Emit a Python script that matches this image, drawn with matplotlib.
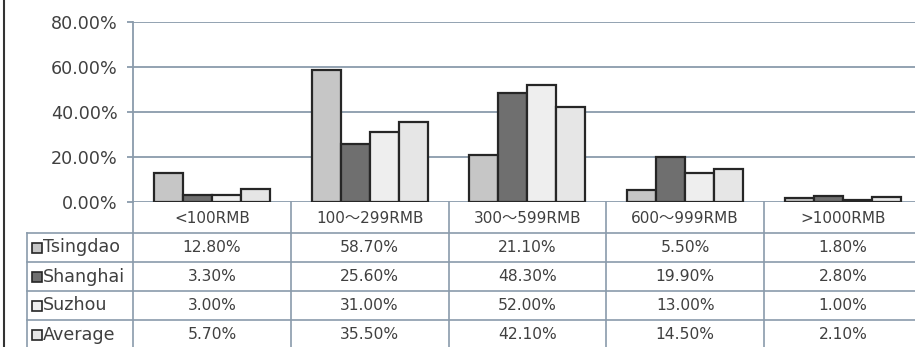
import matplotlib
matplotlib.use("Agg")
import matplotlib.pyplot as plt
from matplotlib.lines import Line2D
import numpy as np

plt.rcParams['font.family'] = ['DejaVu Sans', 'Noto Sans CJK SC']

# Price bands and share of respondents (%) per city
categories = ["<100RMB", "100～299RMB", "300～599RMB", "600～999RMB", ">1000RMB"]
series_names = ["Tsingdao", "Shanghai", "Suzhou", "Average"]
tsingdao = [12.8, 58.7, 21.1, 5.5, 1.8]
shanghai = [3.3, 25.6, 48.3, 19.9, 2.8]
suzhou = [3.0, 31.0, 52.0, 13.0, 1.0]
average = [5.7, 35.5, 42.1, 14.5, 2.1]
y_ticks = [0, 20, 40, 60, 80]

series_values = [tsingdao, shanghai, suzhou, average]
fills = ["#c6c6c6", "#6f6f6f", "#eeeeee", "#e6e6e6"]
edge_col = "#262626"
line_col = "#8a9bab"
text_col = "#404040"

W, H = 915, 347
fig = plt.figure(figsize=(W / 100, H / 100), dpi=100)
fig.patch.set_facecolor("white")


def fx(px):
    return px / W


def fy(py):
    return 1 - py / H


# Layout in pixels
x_left, col_w = 133, 157.75
x_right = x_left + len(categories) * col_w
y_top, y_zero = 22, 202
leg_left, tab_bottom = 27, 349

# ---- bar chart ----
ax = fig.add_axes([fx(x_left), fy(y_zero), (x_right - x_left) / W, (y_zero - y_top) / H])
ax.set_xlim(-0.5, len(categories) - 0.5)
ax.set_ylim(0, 80)
x = np.arange(len(categories))
bw = 0.1835
for i, (vals, fc) in enumerate(zip(series_values, fills)):
    ax.bar(x + (i - 1.5) * bw, vals, width=bw, color=fc, edgecolor=edge_col,
           linewidth=1.6, zorder=3)

ax.set_yticks(y_ticks)
ax.set_yticklabels([f"{v:.2f}%" for v in y_ticks], fontsize=12.6, color=text_col)
ax.set_xticks([])
ax.yaxis.grid(True, color=line_col, linewidth=1.3, zorder=0)
ax.tick_params(axis='y', length=4, width=1.3, color=line_col, pad=7)
for s in ["top", "right", "bottom"]:
    ax.spines[s].set_visible(False)
ax.spines["left"].set_color(line_col)
ax.spines["left"].set_linewidth(1.3)
ax.patch.set_alpha(0)

# ---- data table below ----
tab = fig.add_axes([fx(leg_left), fy(tab_bottom), (x_right - leg_left) / W, (tab_bottom - y_zero) / H])
leg_x0 = -0.5 - (x_left - leg_left) / col_w
tab.set_xlim(leg_x0, len(categories) - 0.5)
tab.set_ylim(tab_bottom - y_zero, 0)
tab.axis("off")
tab.patch.set_alpha(0)

row_edges = [0, 31, 60, 89, 118, 147]
for y in row_edges[1:]:
    tab.plot([leg_x0, len(categories) - 0.5], [y, y], color=line_col, lw=1.2, clip_on=False)
tab.plot([leg_x0, leg_x0], [row_edges[1], row_edges[-1]], color=line_col, lw=1.2, clip_on=False)
for c in range(len(categories) + 1):
    xc = c - 0.5
    tab.plot([xc, xc], [0, row_edges[-1]], color=line_col, lw=1.2, clip_on=False)

# header row: price bands
for i, cat in enumerate(categories):
    tab.text(i, (row_edges[0] + row_edges[1]) / 2 + 1, cat, ha="center", va="center",
             fontsize=11, color=text_col)

# value rows with legend keys
key_x = -0.5 - (x_left - 37) / col_w
lab_x = -0.5 - (x_left - 43) / col_w
for r, (name, vals, fc) in enumerate(zip(series_names, series_values, fills)):
    yc = (row_edges[r + 1] + row_edges[r + 2]) / 2
    tab.plot([key_x], [yc], marker="s", markersize=6.5, markerfacecolor=fc,
             markeredgecolor=edge_col, markeredgewidth=1.2, clip_on=False)
    tab.text(lab_x, yc, name, ha="left", va="center", fontsize=12.6, color=text_col)
    for i, v in enumerate(vals):
        tab.text(i, yc, f"{v:.2f}%", ha="center", va="center", fontsize=11.2,
                 color=text_col)

# outer left border
fig.add_artist(Line2D([fx(4), fx(4)], [0, 1], transform=fig.transFigure,
                      color="#333333", lw=1.5))

fig.savefig("out.png", dpi=100)
